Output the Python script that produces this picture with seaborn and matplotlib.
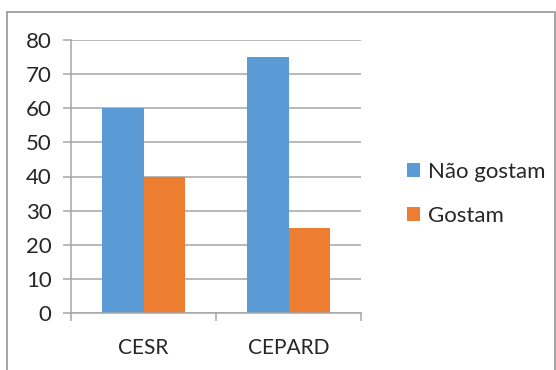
import matplotlib
matplotlib.use("Agg")
import matplotlib.pyplot as plt
from matplotlib.patches import Rectangle
from matplotlib.ticker import FixedLocator
import pandas as pd
import seaborn as sns

categories = ["CESR", "CEPARD"]
series_names = ["Não gostam", "Gostam"]
nao_gostam = [60, 75]
gostam = [40, 25]
y_ticks = [0, 10, 20, 30, 40, 50, 60, 70, 80]

colors = ["#5B9BD5", "#ED7D31"]
grid_color = "#A6A6A6"
text_color = "#262626"

df = pd.DataFrame({
    "Centro": categories * 2,
    "Série": [series_names[0]] * len(categories) + [series_names[1]] * len(categories),
    "Valor": nao_gostam + gostam,
})

sns.set_theme(style="white")
plt.rcParams["font.family"] = ["Lato", "DejaVu Sans"]

W, H = 556, 370
fig = plt.figure(figsize=(W / 100, H / 100), dpi=100)
ax = fig.add_axes([71 / W, 1 - 313 / H, (361 - 71) / W, (313 - 40) / H])

sns.barplot(data=df, x="Centro", y="Valor", hue="Série", order=categories,
            hue_order=series_names, palette=colors, width=0.57, gap=0,
            saturation=1, ax=ax, linewidth=0)

ax.set_xlim(-0.5, len(categories) - 0.5)
ax.set_ylim(0, 80)
ax.set_yticks(y_ticks)
ax.set_xlabel("")
ax.set_ylabel("")
ax.grid(axis="y", color=grid_color, linewidth=1.1)
ax.set_axisbelow(True)

for side in ["top", "right"]:
    ax.spines[side].set_visible(False)
for side in ["left", "bottom"]:
    ax.spines[side].set_color(grid_color)
    ax.spines[side].set_linewidth(1.1)

# y ticks: outward marks plus labels
ax.tick_params(axis="y", which="major", length=6, width=1.1, color=grid_color,
               labelsize=16, labelcolor=text_color, pad=8, left=True)
# x: labels at centres, marks at category boundaries
ax.xaxis.set_minor_locator(FixedLocator([-0.5, 0.5, 1.5]))
ax.tick_params(axis="x", which="major", length=0, labelsize=15,
               labelcolor=text_color, pad=18)
ax.tick_params(axis="x", which="minor", length=6, width=1.1, color=grid_color,
               bottom=True)

leg = ax.legend(loc="center left", bbox_to_anchor=(396 / W, 1 - 194 / H),
                bbox_transform=fig.transFigure, frameon=False, fontsize=16,
                handlelength=0.6, handleheight=0.6, handletextpad=0.35,
                labelspacing=1.1, borderpad=0, labelcolor=text_color)

# outer chart frame
fig.patches.append(Rectangle((7 / W, -0.05), (555 - 7) / W, 1 - 12 / H + 0.05,
                             transform=fig.transFigure, fill=False,
                             edgecolor="#8C8C8C", linewidth=1.1))

fig.savefig("out.png", dpi=100, facecolor="white")
